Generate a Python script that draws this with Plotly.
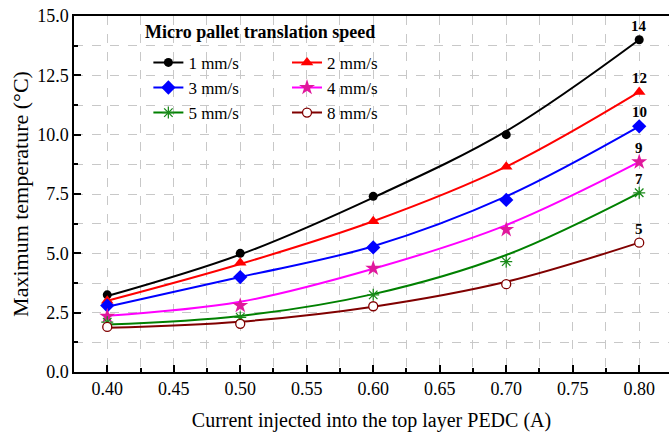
import plotly.graph_objects as go

# ---- data ----
current = [0.40, 0.50, 0.60, 0.70, 0.80]
speeds = ["1 mm/s", "2 mm/s", "3 mm/s", "4 mm/s", "5 mm/s", "8 mm/s"]

# measured points (markers)
t_1 = [3.25, 5.0, 7.4, 10.0, 14.0]
t_2 = [3.0, 4.6, 6.35, 8.65, 11.8]
t_3 = [2.8, 4.0, 5.25, 7.25, 10.35]
t_4 = [2.35, 2.8, 4.37, 6.0, 8.85]
t_5 = [2.1, 2.3, 3.25, 4.65, 7.55]
t_8 = [1.9, 2.03, 2.77, 3.7, 5.45]

# fitted curves (at the same currents)
f_1 = [3.2, 4.95, 7.35, 10.15, 14.0]
f_2 = [3.0, 4.55, 6.35, 8.65, 11.8]
f_3 = [2.75, 4.0, 5.3, 7.4, 10.35]
f_4 = [2.37, 2.96, 4.35, 6.19, 8.85]
f_5 = [2.0, 2.36, 3.28, 4.93, 7.55]
f_8 = [1.86, 2.12, 2.75, 3.8, 5.45]

end_labels = ["14", "12", "10", "9", "7", "5"]

points = [t_1, t_2, t_3, t_4, t_5, t_8]
fits = [f_1, f_2, f_3, f_4, f_5, f_8]

colors = ["#000000", "#ff0000", "#0000ff", "#ff00ff", "#008000", "#800000"]
marker_colors = ["#000000", "#ff0000", "#0000ff", "#e0189c", "#1a8a1a", "#800000"]
symbols = ["circle", "triangle-up", "diamond", "star", "asterisk-open", "circle-open"]
msizes = [9, 11, 11, 12, 10, 9]
legend_ids = ["legend", "legend2", "legend", "legend2", "legend", "legend2"]

FONT = "Liberation Serif"

fig = go.Figure()

for i in range(6):
    col = colors[i]
    mcol = marker_colors[i]
    if symbols[i] == "circle-open":
        marker = dict(symbol="circle", size=msizes[i], color="white",
                      line=dict(color=mcol, width=1.3))
    elif symbols[i] == "asterisk-open":
        marker = dict(symbol="asterisk-open", size=msizes[i], color=mcol,
                      line=dict(color=mcol, width=1.3))
    else:
        marker = dict(symbol=symbols[i], size=msizes[i], color=mcol,
                      line=dict(width=0))
    # fitted curve
    fig.add_trace(go.Scatter(x=current, y=fits[i], mode="lines",
                             line=dict(color=col, width=2, shape="spline", smoothing=1.0),
                             showlegend=False, hoverinfo="skip"))
    # measured points
    fig.add_trace(go.Scatter(x=current, y=points[i], mode="markers",
                             marker=marker, showlegend=False, name=speeds[i]))
    # legend entry
    fig.add_trace(go.Scatter(x=[None], y=[None], mode="lines+markers",
                             line=dict(color=col, width=2), marker=marker,
                             name=speeds[i], legend=legend_ids[i]))

# end labels above last markers
for i in range(6):
    fig.add_annotation(x=current[-1], y=points[i][-1], text="<b>%s</b>" % end_labels[i],
                       showarrow=False, yshift=14,
                       font=dict(family=FONT, size=15, color="black"))

fig.add_annotation(xref="paper", yref="paper", x=0.3126, y=0.955,
                   xanchor="center", yanchor="middle",
                   text="<b>Micro pallet translation speed</b>", showarrow=False,
                   font=dict(family=FONT, size=18, color="black"))

grid = "#c8c8c8"
fig.update_xaxes(range=[0.375, 0.8224], dtick=0.05, tick0=0.4, tickformat=".2f",
                 ticks="inside", ticklen=7, tickcolor="black", tickwidth=1.5,
                 showline=True, linecolor="black", linewidth=1.5, mirror=True,
                 showgrid=True, gridcolor=grid, griddash="dash", gridwidth=1,
                 zeroline=False,
                 minor=dict(dtick=0.025, ticks="inside", ticklen=4, tickcolor="black",
                            showgrid=True, gridcolor=grid, griddash="dash"),
                 tickfont=dict(family=FONT, size=18, color="black"),
                 title=dict(text="Current injected into the top layer PEDC (A)",
                            font=dict(family=FONT, size=20, color="black"), standoff=15))
fig.update_yaxes(range=[0, 15], dtick=2.5, tickformat=".1f",
                 ticks="inside", ticklen=7, tickcolor="black", tickwidth=1.5,
                 showline=True, linecolor="black", linewidth=1.5, mirror=False,
                 showgrid=True, gridcolor=grid, griddash="dash", gridwidth=1,
                 zeroline=False,
                 minor=dict(dtick=1.25, ticks="inside", ticklen=4, tickcolor="black",
                            showgrid=True, gridcolor=grid, griddash="dash"),
                 tickfont=dict(family=FONT, size=18, color="black"),
                 title=dict(text="Maximum temperature (°C)",
                            font=dict(family=FONT, size=22, color="black"), standoff=2))

legend_common = dict(bgcolor="rgba(0,0,0,0)", borderwidth=0,
                     font=dict(family=FONT, size=17, color="black"),
                     yanchor="top", xanchor="left", tracegroupgap=0)
fig.update_layout(
    width=669, height=437,
    margin=dict(l=74, r=0, t=16, b=65),
    paper_bgcolor="white", plot_bgcolor="white",
    legend=dict(x=0.125, y=0.919, **legend_common),
    legend2=dict(x=0.358, y=0.919, **legend_common),
)

fig.write_html("out.html")
